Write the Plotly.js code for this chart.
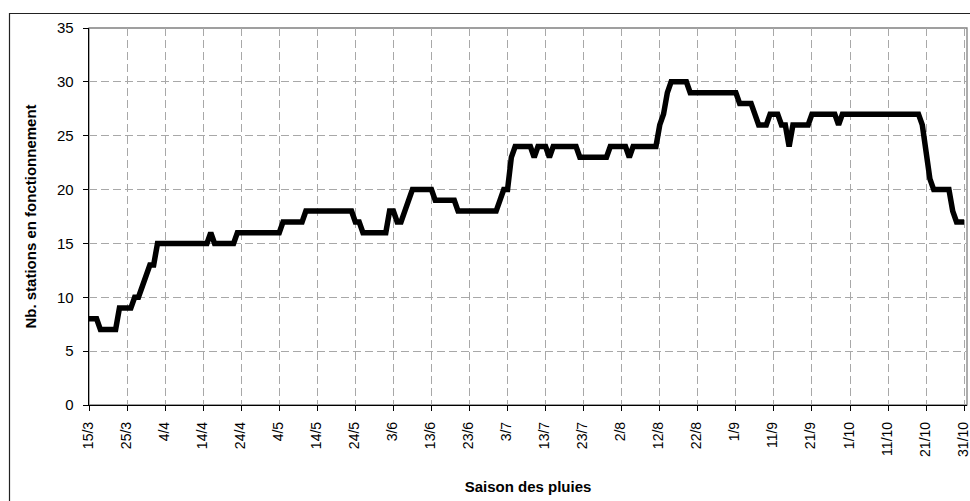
<!DOCTYPE html>
<html>
<head>
<meta charset="utf-8">
<script src="https://cdn.plot.ly/plotly-3.0.1.min.js"></script>
<style>
  html, body { margin: 0; padding: 0; background: #ffffff; }
  #chart { width: 970px; height: 501px; }
</style>
</head>
<body>
<div id="chart"></div>
<script>
// Daily number of stations operating, from 15/3 (day 0) to 31/10 (day 230)
const stations = [
  8, 8, 8, 7, 7, 7, 7, 7, 9, 9,          // 15/3 - 24/3
  9, 9, 10, 10, 11, 12, 13, 13, 15, 15,  // 25/3 - 3/4
  15, 15, 15, 15, 15, 15, 15, 15, 15, 15, // 4/4 - 13/4
  15, 15, 16, 15, 15, 15, 15, 15, 15, 16, // 14/4 - 23/4
  16, 16, 16, 16, 16, 16, 16, 16, 16, 16, // 24/4 - 3/5
  16, 17, 17, 17, 17, 17, 17, 18, 18, 18, // 4/5 - 13/5
  18, 18, 18, 18, 18, 18, 18, 18, 18, 18, // 14/5 - 23/5
  17, 17, 16, 16, 16, 16, 16, 16, 16, 18, // 24/5 - 2/6
  18, 17, 17, 18, 19, 20, 20, 20, 20, 20, // 3/6 - 12/6
  20, 19, 19, 19, 19, 19, 19, 18, 18, 18, // 13/6 - 22/6
  18, 18, 18, 18, 18, 18, 18, 18, 19, 20, // 23/6 - 2/7
  20, 23, 24, 24, 24, 24, 24, 23, 24, 24, // 3/7 - 12/7
  24, 23, 24, 24, 24, 24, 24, 24, 24, 23, // 13/7 - 22/7
  23, 23, 23, 23, 23, 23, 23, 24, 24, 24, // 23/7 - 1/8
  24, 24, 23, 24, 24, 24, 24, 24, 24, 24, // 2/8 - 11/8
  26, 27, 29, 30, 30, 30, 30, 30, 29, 29, // 12/8 - 21/8
  29, 29, 29, 29, 29, 29, 29, 29, 29, 29, // 22/8 - 31/8
  29, 28, 28, 28, 28, 27, 26, 26, 26, 27, // 1/9 - 10/9
  27, 27, 26, 26, 24, 26, 26, 26, 26, 26, // 11/9 - 20/9
  27, 27, 27, 27, 27, 27, 27, 26, 27, 27, // 21/9 - 30/9
  27, 27, 27, 27, 27, 27, 27, 27, 27, 27, // 1/10 - 10/10
  27, 27, 27, 27, 27, 27, 27, 27, 27, 26, // 11/10 - 20/10
  23, 21, 20, 20, 20, 20, 20, 18, 17, 17, // 21/10 - 30/10
  17                                      // 31/10
];
// Category labels, one every 10 days
const xLabels = ['15/3', '25/3', '4/4', '14/4', '24/4', '4/5', '14/5', '24/5', '3/6', '13/6',
  '23/6', '3/7', '13/7', '23/7', '2/8', '12/8', '22/8', '1/9', '11/9', '21/9',
  '1/10', '11/10', '21/10', '31/10'];
const labelStep = 10;
const yTicks = [0, 5, 10, 15, 20, 25, 30, 35];
const xTitle = 'Saison des pluies';
const yTitle = 'Nb. stations en fonctionnement';

const days = stations.map((_, i) => i);
const xTickVals = xLabels.map((_, i) => i * labelStep);

const W = 970, H = 501;
const M = { l: 89, r: 3, t: 28, b: 96 };
const pw = W - M.l - M.r, ph = H - M.t - M.b;
const px = x => (x - M.l) / pw;
const py = y => (H - M.b - y) / ph;

const font = 'Liberation Sans, Arial, Helvetica, sans-serif';

const trace = {
  x: days, y: stations,
  type: 'scatter', mode: 'lines',
  line: { color: '#000000', width: 5.5, shape: 'linear' },
  hoverinfo: 'y'
};

const layout = {
  width: W, height: H,
  margin: M,
  paper_bgcolor: '#ffffff', plot_bgcolor: '#ffffff',
  showlegend: false,
  font: { family: font, size: 15, color: '#000000' },
  xaxis: {
    range: [0, days.length - 1 + 0.75],
    tickmode: 'array', tickvals: xTickVals, ticktext: xLabels,
    tickangle: -90,
    ticklabeloverflow: 'allow',
    ticklabelshift: -1,
    ticks: 'outside', ticklen: 5, tickcolor: '#000000', tickwidth: 1,
    ticklabelstandoff: 5,
    showline: true, linecolor: '#000000', linewidth: 1.3,
    showgrid: true, gridcolor: '#a8a8a8', gridwidth: 1, griddash: '8px,4px',
    zeroline: false,
    tickfont: { family: font, size: 14, color: '#000000' },
    title: { text: '<b>' + xTitle + '</b>', font: { family: font, size: 15, color: '#000000' }, standoff: 25 }
  },
  yaxis: {
    range: [0, 35],
    tickmode: 'array', tickvals: yTicks,
    ticks: 'outside', ticklen: 5, tickcolor: '#000000', tickwidth: 1,
    ticklabelstandoff: 6,
    showline: true, linecolor: '#000000', linewidth: 1.3,
    showgrid: true, gridcolor: '#a8a8a8', gridwidth: 1, griddash: '8px,4px',
    zeroline: false,
    tickfont: { family: font, size: 15, color: '#000000' },
    title: { text: '<b>' + yTitle + '</b>', font: { family: font, size: 15, color: '#000000' }, standoff: 16 }
  },
  shapes: [
    { type: 'rect', xref: 'paper', yref: 'paper', x0: 0, x1: 1, y0: 0, y1: 1,
      line: { color: '#808080', width: 1.3 }, layer: 'below' },
    { type: 'rect', xref: 'paper', yref: 'paper', x0: px(9.5), x1: px(980), y0: py(510), y1: py(13.5),
      line: { color: '#222222', width: 1.2 }, layer: 'below' }
  ]
};

Plotly.newPlot('chart', [trace], layout, { displayModeBar: false, staticPlot: true });
</script>
</body>
</html>
